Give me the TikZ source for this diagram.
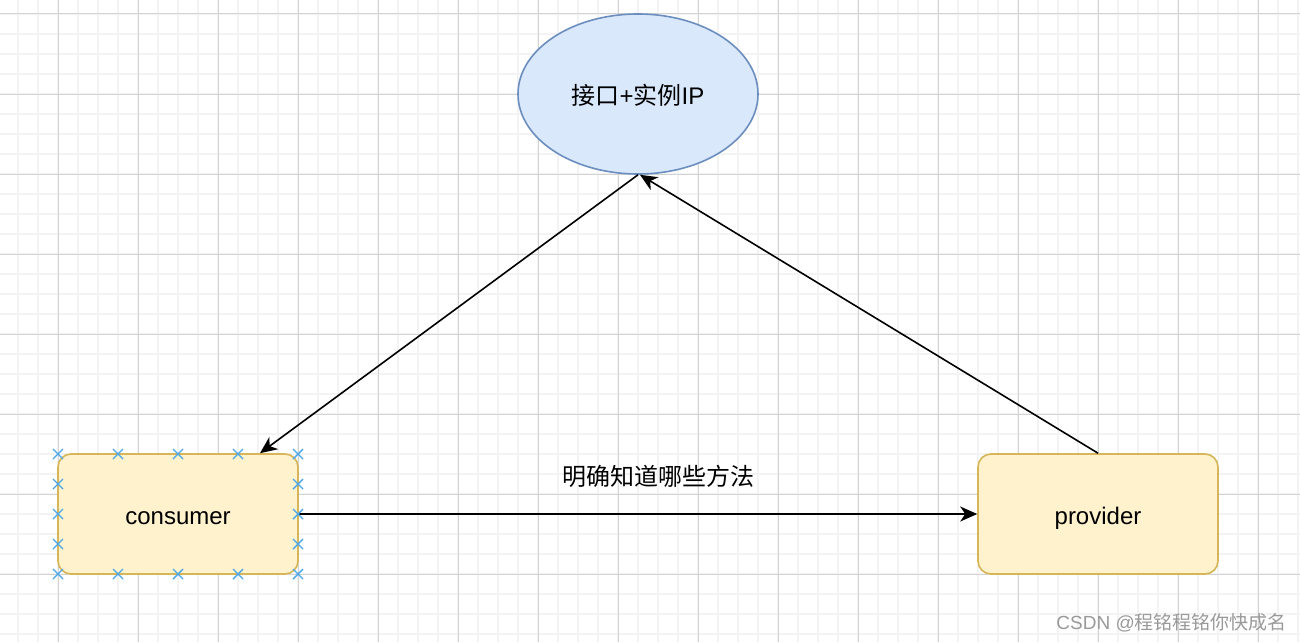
\documentclass[tikz,border=0pt]{standalone}
\usepackage{fontspec}
\setmainfont{Liberation Sans}
\newfontfamily\cjk{Noto Sans CJK SC}
\usetikzlibrary{arrows.meta,shapes.geometric}
\definecolor{gridminor}{HTML}{F3F3F3}
\definecolor{gridmajor}{HTML}{D3D3D3}
\definecolor{ellfill}{HTML}{DAE8FC}
\definecolor{elldraw}{HTML}{6C8EBF}
\definecolor{boxfill}{HTML}{FFF2CC}
\definecolor{boxdraw}{HTML}{D6B656}
\definecolor{handle}{HTML}{4DA6E8}
\definecolor{wmark}{HTML}{9A9A9A}
\begin{document}
\begin{tikzpicture}[x=1pt,y=-1pt,
  minorline/.style={draw=gridminor,line width=1.6pt},
  majorline/.style={draw=gridmajor,line width=1pt},
  bigtext/.style={font=\fontsize{24}{28}\selectfont},
  ellnode/.style={ellipse,draw=elldraw,fill=ellfill,line width=1.6pt,minimum width=240pt,minimum height=160pt,inner sep=0pt,text height=21pt,text depth=0pt,bigtext},
  boxnode/.style={rectangle,rounded corners=13pt,draw=boxdraw,fill=boxfill,line width=1.6pt,minimum width=240pt,minimum height=120pt,inner sep=0pt,text height=21pt,text depth=0pt,bigtext},
  conn/.style={line width=1.6pt,-{Stealth[length=17pt,width=15pt,inset=5pt]}},
  handlemark/.style={draw=handle,line width=1.4pt},
]
\useasboundingbox (0,0) rectangle (1300,642);
\fill[white] (0,0) rectangle (1300,642);
% grid
\foreach \x in {18,38,...,1298} \draw[minorline] (\x,0) -- (\x,642);
\foreach \y in {14,34,...,634} \draw[minorline] (0,\y) -- (1300,\y);
\foreach \x in {58,138,...,1298} \draw[majorline] (\x,0) -- (\x,642);
\foreach \y in {14,94,...,634} \draw[majorline] (0,\y) -- (1300,\y);
% nodes
\node[ellnode] (e) at (638,94) {{\cjk 接口}+{\cjk 实例}IP};
\node[boxnode] (c) at (178,514) {consumer};
\node[boxnode] (p) at (1098,514) {provider};
% connectors
\coordinate (ctop) at ([xshift=82pt]c.north);
\draw[conn] (e.south) -- (ctop);
\draw[conn] (p.north) -- ([xshift=2pt]e.south);
\draw[conn] (c.east) -- node[midway,xshift=20pt,yshift=38pt,bigtext] (lbl) {\cjk 明确知道哪些方法} (p.west);
% selection handles
\foreach \x in {58,118,178,238,298} {
  \foreach \y in {454,574} {
    \draw[handlemark] (\x-5,\y-5) -- (\x+5,\y+5) (\x-5,\y+5) -- (\x+5,\y-5);
  }
}
\foreach \x in {58,298} {
  \foreach \y in {484,514,544} {
    \draw[handlemark] (\x-5,\y-5) -- (\x+5,\y+5) (\x-5,\y+5) -- (\x+5,\y-5);
  }
}
% watermark
\node[anchor=east,text=wmark,font=\fontsize{19}{22}\selectfont,inner sep=0pt] (wm) at (1287,623) {CSDN @{\cjk 程铭程铭你快成名}};
\end{tikzpicture}
\end{document}
